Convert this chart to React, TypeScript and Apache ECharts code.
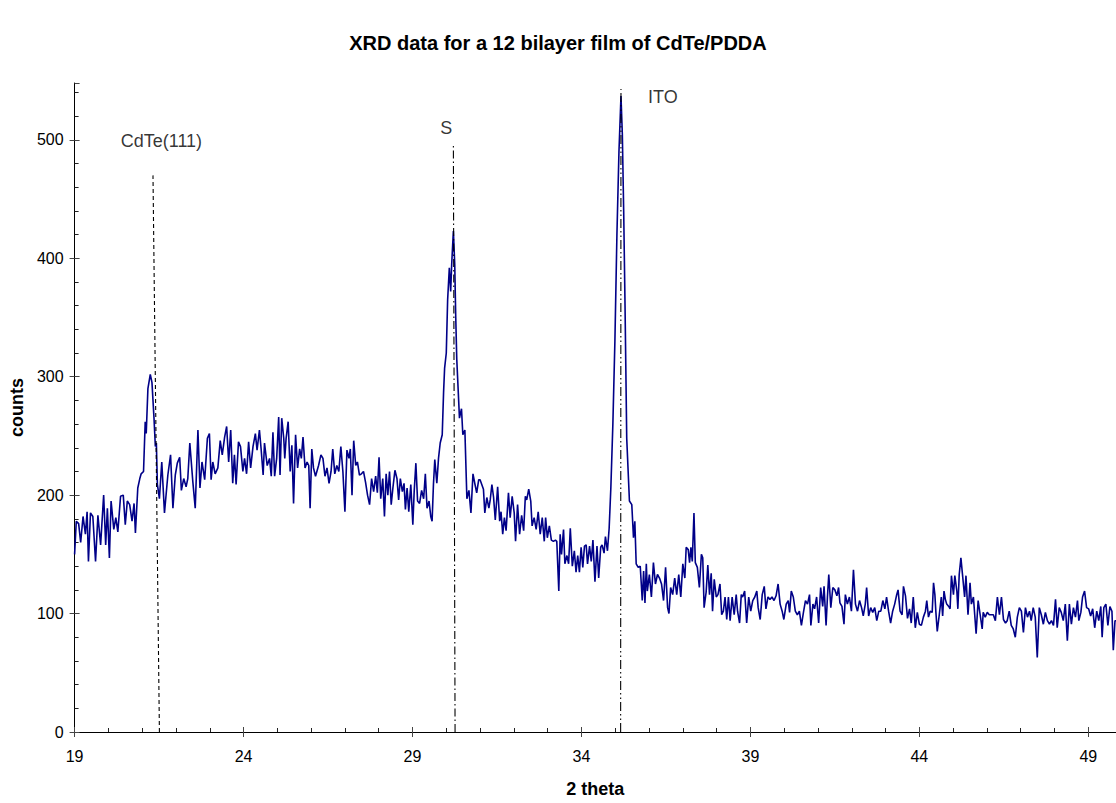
import React, { useEffect, useRef } from "react";
import * as echarts from "echarts";

// ---- data ----
const twoTheta: number[] = [
  19.00, 19.05, 19.12, 19.18, 19.25, 19.32, 19.37, 19.41, 19.47, 19.54, 19.62, 19.69, 19.77, 19.86, 19.92, 19.97,
  20.03, 20.08, 20.16, 20.22, 20.28, 20.36, 20.44, 20.50, 20.56, 20.63, 20.70, 20.76, 20.80, 20.87, 20.93, 20.97,
  21.04, 21.09, 21.12, 21.17, 21.24, 21.29, 21.35, 21.39, 21.42, 21.45, 21.51, 21.58, 21.66, 21.76, 21.84, 21.91, 21.98,
  22.04, 22.11, 22.16, 22.23, 22.30, 22.35, 22.41, 22.50, 22.57, 22.65, 22.71, 22.77, 22.85, 22.93, 22.99,
  23.04, 23.09, 23.16, 23.24, 23.31, 23.37, 23.44, 23.50, 23.56, 23.62, 23.68, 23.73, 23.78, 23.85, 23.91, 23.98,
  24.03, 24.09, 24.15, 24.21, 24.28, 24.35, 24.40, 24.47, 24.52, 24.58, 24.62, 24.70, 24.77, 24.82, 24.87, 24.92, 24.98,
  25.04, 25.08, 25.13, 25.19, 25.22, 25.26, 25.32, 25.38, 25.43, 25.48, 25.54, 25.60, 25.66, 25.71, 25.76, 25.82, 25.88, 25.93, 25.97,
  26.02, 26.07, 26.13, 26.22, 26.29, 26.35, 26.41, 26.47, 26.53, 26.59, 26.64, 26.70, 26.76, 26.82, 26.88, 26.94,
  27.00, 27.06, 27.12, 27.16, 27.21, 27.26, 27.32, 27.37, 27.43, 27.49, 27.55, 27.61, 27.67, 27.73, 27.79, 27.85, 27.91, 27.96,
  28.01, 28.06, 28.12, 28.17, 28.22, 28.27, 28.32, 28.37, 28.42, 28.48, 28.54, 28.59, 28.64, 28.70, 28.75, 28.79, 28.84, 28.89, 28.95,
  29.01, 29.05, 29.10, 29.15, 29.21, 29.27, 29.33, 29.38, 29.43, 29.49, 29.54, 29.58, 29.62, 29.66, 29.72, 29.77, 29.82, 29.88, 29.92, 29.95,
  30.00, 30.04, 30.09, 30.13, 30.16, 30.21, 30.25, 30.28, 30.31, 30.39, 30.45, 30.49, 30.55, 30.61, 30.67, 30.73, 30.79, 30.85, 30.90, 30.96,
  31.00, 31.10, 31.14, 31.20, 31.26, 31.30, 31.35, 31.40, 31.45, 31.52, 31.58, 31.62, 31.67, 31.72, 31.77, 31.84, 31.89, 31.95,
  32.01, 32.05, 32.11, 32.17, 32.23, 32.29, 32.34, 32.38, 32.44, 32.50, 32.54, 32.60, 32.66, 32.72, 32.78, 32.84, 32.90, 32.94, 32.99,
  33.05, 33.11, 33.17, 33.23, 33.27, 33.33, 33.37, 33.41, 33.47, 33.51, 33.57, 33.62, 33.67, 33.73, 33.79, 33.84, 33.89, 33.94, 33.99,
  34.04, 34.09, 34.14, 34.18, 34.24, 34.29, 34.34, 34.40, 34.46, 34.51, 34.57, 34.61, 34.67, 34.71, 34.77, 34.82, 34.87, 34.93, 34.99,
  35.05, 35.11, 35.17, 35.21, 35.25, 35.29, 35.34, 35.42, 35.49, 35.54, 35.58, 35.62, 35.68, 35.74, 35.80, 35.84, 35.88, 35.92, 35.95,
  36.01, 36.07, 36.13, 36.19, 36.25, 36.31, 36.37, 36.43, 36.49, 36.55, 36.59, 36.64, 36.70, 36.76, 36.82, 36.88, 36.94,
  37.00, 37.06, 37.10, 37.16, 37.20, 37.24, 37.28, 37.33, 37.37, 37.43, 37.49, 37.55, 37.59, 37.63, 37.69, 37.74, 37.79, 37.84, 37.88, 37.93, 37.99,
  38.04, 38.10, 38.15, 38.20, 38.25, 38.30, 38.35, 38.40, 38.46, 38.52, 38.58, 38.62, 38.68, 38.73, 38.77, 38.83, 38.89, 38.95,
  39.01, 39.07, 39.13, 39.19, 39.23, 39.29, 39.35, 39.41, 39.46, 39.52, 39.58, 39.64, 39.70, 39.76, 39.82, 39.88, 39.94, 39.99,
  40.06, 40.12, 40.16, 40.21, 40.27, 40.33, 40.39, 40.45, 40.51, 40.57, 40.63, 40.69, 40.75, 40.79, 40.85, 40.90, 40.96,
  41.02, 41.08, 41.14, 41.18, 41.24, 41.28, 41.32, 41.38, 41.44, 41.50, 41.56, 41.61, 41.65, 41.71, 41.77, 41.81, 41.87, 41.93, 41.99,
  42.05, 42.11, 42.17, 42.23, 42.29, 42.34, 42.40, 42.44, 42.50, 42.56, 42.62, 42.68, 42.74, 42.80, 42.86, 42.92, 42.98,
  43.03, 43.09, 43.15, 43.21, 43.27, 43.33, 43.37, 43.43, 43.49, 43.53, 43.59, 43.65, 43.71, 43.76, 43.82, 43.88, 43.94,
  44.00, 44.06, 44.12, 44.18, 44.22, 44.27, 44.32, 44.38, 44.42, 44.46, 44.49, 44.53, 44.59, 44.65, 44.69, 44.73, 44.77, 44.81, 44.87, 44.91, 44.95,
  45.01, 45.05, 45.11, 45.14, 45.18, 45.23, 45.28, 45.34, 45.38, 45.44, 45.50, 45.54, 45.60, 45.68, 45.74, 45.80, 45.86, 45.89, 45.95,
  46.01, 46.07, 46.13, 46.19, 46.25, 46.31, 46.37, 46.43, 46.49, 46.55, 46.60, 46.66, 46.72, 46.78, 46.84, 46.90, 46.96,
  47.02, 47.08, 47.14, 47.20, 47.26, 47.31, 47.37, 47.43, 47.49, 47.55, 47.61, 47.67, 47.73, 47.79, 47.85, 47.91, 47.97,
  48.03, 48.08, 48.14, 48.20, 48.26, 48.32, 48.38, 48.44, 48.50, 48.56, 48.62, 48.68, 48.72, 48.78, 48.83, 48.89, 48.95,
  49.01, 49.07, 49.13, 49.19, 49.25, 49.31, 49.37, 49.41, 49.46, 49.52, 49.58, 49.64, 49.70, 49.74, 49.79, 49.82,
];

const counts: number[] = [
  150, 178, 176, 160, 182, 167, 186, 144, 185, 182, 144, 183, 158, 200, 158, 189,
  147, 195, 171, 181, 169, 199, 200, 175, 195, 192, 178, 193, 168, 206, 214, 218,
  220, 262, 252, 290, 302, 295, 265, 241, 244, 209, 197, 228, 185, 217, 234, 189, 217,
  227, 232, 204, 214, 207, 214, 244, 211, 189, 255, 206, 228, 213, 248, 252,
  213, 228, 218, 223, 246, 234, 249, 258, 228, 255, 210, 234, 209, 245, 241, 220,
  231, 218, 245, 223, 241, 252, 238, 255, 239, 217, 244, 225, 231, 216, 253, 216, 231,
  266, 217, 265, 248, 231, 248, 262, 220, 242, 193, 251, 223, 239, 231, 249, 223, 228, 225, 189,
  239, 223, 216, 225, 234, 231, 216, 223, 210, 220, 239, 218, 225, 220, 241, 220,
  186, 238, 231, 239, 200, 246, 225, 228, 217, 218, 220, 211, 200, 192, 214, 203, 216, 202,
  232, 197, 214, 182, 218, 200, 220, 192, 206, 221, 214, 196, 214, 203, 210, 188, 206, 186, 209,
  175, 203, 227, 195, 193, 204, 197, 218, 189, 195, 182, 178, 209, 230, 210, 231, 244, 251, 287, 307,
  320, 365, 392, 372, 395, 423, 395, 350, 315, 265, 273, 251, 255, 197, 204, 185, 218, 209, 202, 213,
  213, 205, 185, 198, 189, 196, 209, 198, 179, 207, 178, 186, 167, 181, 170, 202, 181, 199,
  185, 161, 192, 167, 183, 170, 199, 196, 205, 195, 174, 181, 171, 186, 167, 181, 161, 181, 164,
  174, 162, 161, 162, 161, 119, 167, 150, 171, 142, 149, 142, 172, 140, 153, 135, 149, 135, 156,
  139, 157, 158, 142, 157, 144, 162, 127, 157, 130, 156, 158, 151, 165, 153, 172, 206, 260, 330,
  420, 490, 537, 505, 440, 360, 248, 195, 192, 164, 178, 142, 139, 140, 111, 136, 109, 142, 119,
  133, 114, 143, 125, 133, 130, 125, 111, 139, 105, 100, 122, 116, 130, 116, 133, 114,
  142, 130, 156, 154, 143, 156, 144, 185, 143, 139, 122, 150, 147, 105, 118, 141, 116, 134, 102, 129, 114,
  116, 125, 99, 102, 114, 95, 114, 94, 114, 99, 116, 102, 92, 116, 114, 119, 92, 114,
  102, 111, 114, 119, 105, 95, 116, 123, 104, 114, 112, 114, 111, 115, 125, 108, 102, 95,
  108, 111, 101, 119, 114, 102, 99, 102, 90, 101, 111, 108, 116, 90, 108, 104, 114,
  92, 122, 106, 123, 90, 114, 133, 105, 122, 120, 115, 122, 109, 106, 91, 116, 108, 114, 102,
  137, 108, 102, 111, 105, 98, 108, 122, 98, 105, 101, 105, 94, 102, 102, 111, 104,
  114, 102, 92, 102, 108, 116, 120, 102, 99, 123, 115, 96, 104, 92, 114, 88, 101,
  91, 90, 97, 102, 111, 97, 102, 101, 126, 116, 101, 85, 99, 114, 98, 119, 112, 108, 106, 104, 132,
  116, 132, 119, 104, 133, 147, 132, 114, 132, 99, 126, 108, 114, 83, 111, 99, 87, 101, 97,
  101, 99, 99, 99, 94, 114, 99, 114, 95, 92, 94, 102, 90, 87, 80, 97, 105,
  102, 84, 105, 97, 102, 94, 105, 97, 63, 105, 99, 91, 101, 94, 91, 94, 90,
  112, 88, 105, 101, 94, 108, 77, 108, 91, 105, 97, 111, 94, 101, 114, 119, 105,
  104, 98, 104, 88, 102, 94, 106, 80, 105, 108, 90, 106, 102, 69, 94, 94,
];

// peak marker lines and their labels
const peakNames: string[] = ["CdTe(111)", "S", "ITO"];
const peakLineBottomX: number[] = [21.51, 30.26, 35.16];
const peakLineTopX: number[] = [21.32, 30.21, 35.17];
const peakLineTopY: number[] = [470, 495, 543];
const peakLabelX: number[] = [21.57, 30.0, 36.41];
const peakLabelY: number[] = [499, 510, 536];

const xTicks = { min: 19, max: 49.82, step: 5 };
const yTicks = { min: 0, max: 548, step: 100 };

const FONT = "'Liberation Sans', Arial, Helvetica, sans-serif";
const dashPatterns: (number[])[] = [
  [4, 3],
  [8, 3, 1.5, 3],
  [9, 3, 1.5, 3, 1.5, 3],
];

export default function App() {
  const ref = useRef<HTMLDivElement>(null);

  useEffect(() => {
    if (!ref.current) return;
    const chart = echarts.init(ref.current, undefined, { renderer: "svg" });

    const lineData = twoTheta.map((t, i) => [t, counts[i]]);

    const markerSeries = peakNames.map((name, i) => ({
      type: "line",
      name: name + " line",
      xAxisIndex: 0,
      yAxisIndex: 0,
      data: [
        [peakLineBottomX[i], 0],
        [peakLineTopX[i], peakLineTopY[i]],
      ],
      symbol: "none",
      silent: true,
      z: 3,
      lineStyle: { color: "#000", width: 1.1, type: dashPatterns[i] },
    }));

    const labelSeries = peakNames.map((name, i) => ({
      type: "scatter",
      name: name,
      xAxisIndex: 0,
      yAxisIndex: 0,
      symbolSize: 0,
      silent: true,
      data: [[peakLabelX[i], peakLabelY[i]]],
      label: {
        show: true,
        position: "inside",
        formatter: name,
        color: "#000",
        fontFamily: FONT,
        fontSize: 18,
      },
    }));

    const xFmt = (v: number) => (Math.abs((v - xTicks.min) % xTicks.step) < 1e-6 ? String(v) : "");
    const yFmt = (v: number) => (Math.abs(v % yTicks.step) < 1e-6 ? String(v) : "");

    chart.setOption({
      animation: false,
      backgroundColor: "#fff",
      title: {
        text: "XRD data for a 12 bilayer film of CdTe/PDDA",
        left: "center",
        top: 28,
        textStyle: { fontFamily: FONT, fontSize: 20, fontWeight: "bold", color: "#000" },
      },
      grid: { left: 74, width: 1042, top: 83, height: 652, containLabel: false },
      xAxis: [
        {
          type: "value",
          position: "bottom",
          min: xTicks.min,
          max: xTicks.max,
          interval: xTicks.step,
          name: "2 theta",
          nameLocation: "middle",
          nameGap: 48,
          nameTextStyle: { fontFamily: FONT, fontSize: 18, fontWeight: "bold", color: "#000" },
          axisLine: { show: true, onZero: false, lineStyle: { color: "#000", width: 1 } },
          axisTick: { show: true, inside: false, length: 5, lineStyle: { color: "#444" } },
          minorTick: { show: false },
          axisLabel: {
            formatter: xFmt,
            margin: 16,
            fontFamily: FONT,
            fontSize: 16,
            color: "#000",
            showMaxLabel: false,
          },
          splitLine: { show: false },
        },
        {
          type: "value",
          position: "bottom",
          min: xTicks.min,
          max: xTicks.max,
          interval: xTicks.step,
          axisLine: { show: false, onZero: false },
          axisTick: { show: true, inside: true, length: 5, lineStyle: { color: "#444" } },
          minorTick: { show: true, splitNumber: 5, length: 4, lineStyle: { color: "#222" } },
          axisLabel: { show: false },
          splitLine: { show: false },
        },
      ],
      yAxis: [
        {
          type: "value",
          position: "left",
          min: yTicks.min,
          max: yTicks.max,
          interval: yTicks.step,
          name: "counts",
          nameLocation: "middle",
          nameGap: 48,
          nameRotate: 90,
          nameTextStyle: { fontFamily: FONT, fontSize: 18, fontWeight: "bold", color: "#000" },
          axisLine: { show: true, onZero: false, lineStyle: { color: "#000", width: 1 } },
          axisTick: { show: true, inside: false, length: 5, lineStyle: { color: "#444" } },
          minorTick: { show: false },
          axisLabel: {
            formatter: yFmt,
            margin: 11,
            fontFamily: FONT,
            fontSize: 16,
            color: "#000",
            showMaxLabel: false,
          },
          splitLine: { show: false },
        },
        {
          type: "value",
          position: "left",
          min: yTicks.min,
          max: yTicks.max,
          interval: yTicks.step,
          axisLine: { show: false, onZero: false },
          axisTick: { show: true, inside: true, length: 5, lineStyle: { color: "#444" } },
          minorTick: { show: true, splitNumber: 5, length: 4, lineStyle: { color: "#222" } },
          axisLabel: { show: false },
          splitLine: { show: false },
        },
      ],
      series: [
        ...markerSeries,
        {
          type: "line",
          name: "counts",
          xAxisIndex: 0,
          yAxisIndex: 0,
          data: lineData,
          symbol: "none",
          z: 2,
          lineStyle: { color: "#000088", width: 1.6 },
        },
        ...labelSeries,
      ],
    });

    return () => chart.dispose();
  }, []);

  return (
    <div
      ref={ref}
      style={{ position: "fixed", left: 0, top: 0, width: 1116, height: 803, background: "#fff" }}
    />
  );
}
